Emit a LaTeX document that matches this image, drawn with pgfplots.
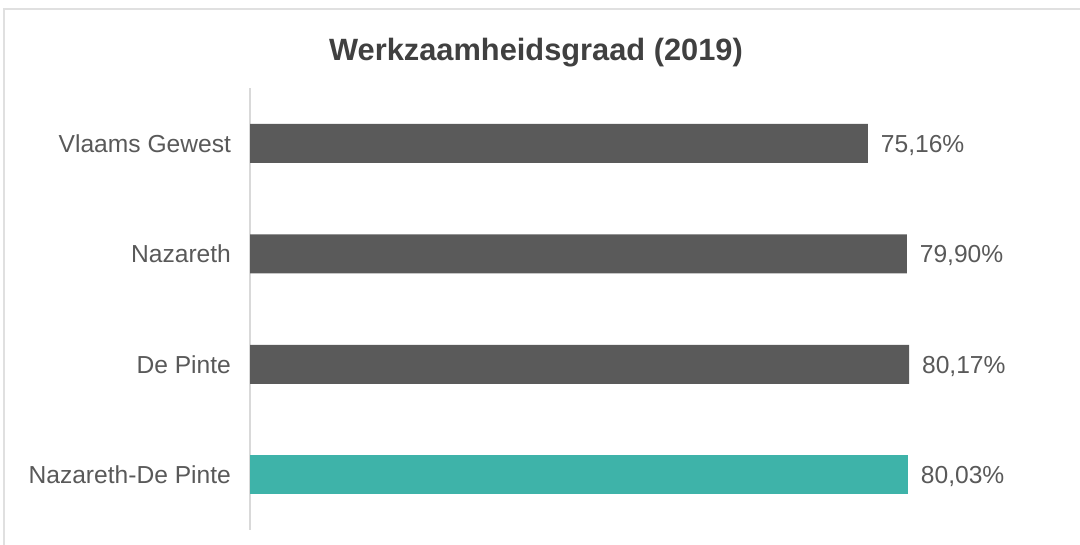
\documentclass[border=0pt]{standalone}
\usepackage{fontspec}
\setmainfont{Liberation Sans}
\usepackage{pgfplots}
\pgfplotsset{compat=1.18}
\definecolor{bargray}{HTML}{5A5A5A}
\definecolor{tealbar}{HTML}{3EB3A9}
\definecolor{txtgray}{HTML}{595959}
\definecolor{titlegray}{HTML}{404040}
\definecolor{axgray}{HTML}{D9D9D9}
\definecolor{framegray}{HTML}{E0E0E0}
\begin{document}
\begin{tikzpicture}
\path[use as bounding box] (0,0) rectangle (540pt,272.5pt);
\draw[framegray, line width=0.8pt] (2pt,0) -- (2pt,268pt) -- (540pt,268pt);
\node[anchor=base, text=titlegray, font=\bfseries\fontsize{15.4}{18}\selectfont] at (268pt,242pt) {Werkzaamheidsgraad (2019)};
\begin{axis}[
  at={(125pt,7.5pt)}, anchor=south west,
  scale only axis, width=411pt, height=221pt,
  xmin=0, xmax=100, ymin=-0.5, ymax=3.5,
  y dir=reverse,
  xbar, bar width=19.5pt, bar shift=0pt,
  hide x axis,
  axis y line*=left,
  y axis line style={axgray, line width=0.7pt, -},
  ytick={0,1,2,3},
  yticklabels={Vlaams Gewest,Nazareth,De Pinte,Nazareth-De Pinte},
  major tick length=0pt,
  yticklabel style={font=\fontsize{12.3}{14}\selectfont, text=txtgray, xshift=-6pt},
  nodes near coords={\pgfmathprintnumber[fixed,fixed zerofill,precision=2,use comma,assume math mode=true]{\pgfplotspointmeta}\%},
  nodes near coords style={font=\fontsize{12.3}{14}\selectfont, text=txtgray, anchor=west, xshift=3pt, yshift=-1pt},
  point meta=x,
]
\addplot[fill=bargray, draw=none, bar shift=0pt] coordinates {(75.16,0) (79.90,1) (80.17,2)};
\addplot[fill=tealbar, draw=none, bar shift=0pt] coordinates {(80.03,3)};
\end{axis}
\end{tikzpicture}
\end{document}
